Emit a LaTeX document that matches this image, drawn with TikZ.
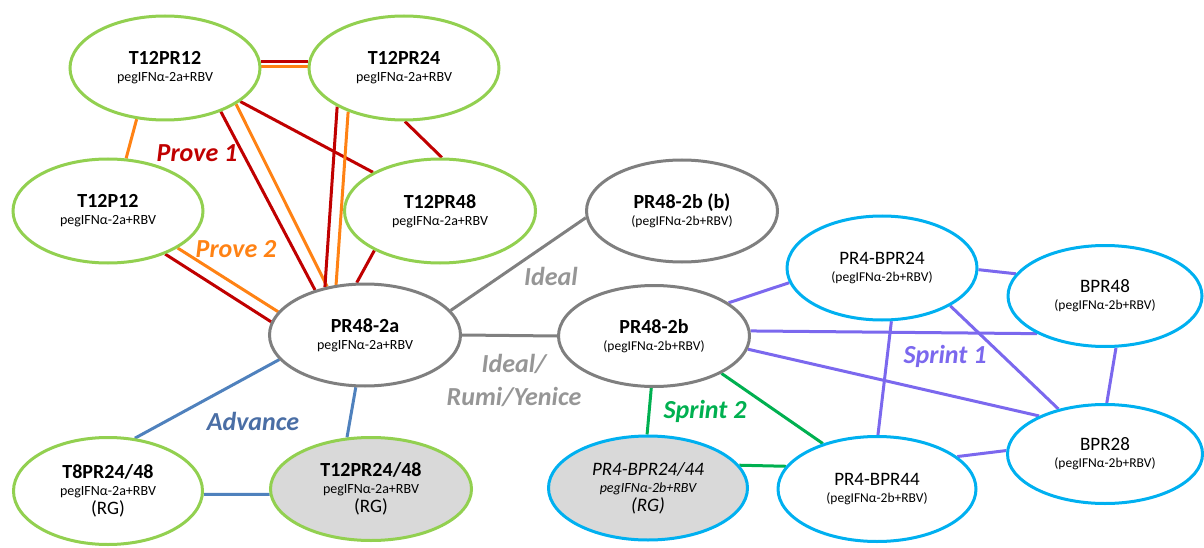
\documentclass[tikz,border=0pt]{standalone}
\usepackage{fontspec}
\setmainfont{Carlito}
\usetikzlibrary{shapes.geometric,backgrounds}
\definecolor{ngreen}{RGB}{146,208,80}
\definecolor{ngray}{RGB}{127,127,127}
\definecolor{ncyan}{RGB}{0,176,240}
\definecolor{nfill}{RGB}{217,217,217}
\definecolor{lred}{RGB}{192,0,0}
\definecolor{lorange}{RGB}{255,130,20}
\definecolor{lblue}{RGB}{79,129,189}
\definecolor{tblue}{RGB}{74,110,165}
\definecolor{lpurple}{RGB}{123,104,238}
\definecolor{lgreen}{RGB}{0,176,80}
\definecolor{lgray}{RGB}{128,128,128}
\definecolor{tgray}{RGB}{150,150,150}
\newcommand\ttl[1]{{\fontsize{20}{20}\selectfont\bfseries #1}}
\newcommand\btl[1]{{\fontsize{19}{19}\selectfont #1}}
\newcommand\rgt{{\fontsize{19}{19}\selectfont (RG)}}
\tikzset{
  ell/.style={ellipse, line width=3pt, fill=white, inner sep=0pt, align=center,
    font=\fontsize{14}{17}\selectfont},
  gnode/.style={ell, draw=ngreen},
  graynode/.style={ell, draw=ngray},
  cnode/.style={ell, draw=ncyan, font=\fontsize{13.5}{17}\selectfont},
  conn/.style={line width=3pt},
  redl/.style={conn, draw=lred},
  orl/.style={conn, draw=lorange},
  bluel/.style={conn, draw=lblue},
  purl/.style={conn, draw=lpurple},
  grnl/.style={conn, draw=lgreen},
  gryl/.style={conn, draw=lgray},
  lbl/.style={inner sep=0pt, font=\fontsize{26}{33}\selectfont\bfseries\itshape}
}
\begin{document}
\begin{tikzpicture}[x=1pt,y=-1pt]
\useasboundingbox (0,0) rectangle (1204,548);
% nodes
\node[gnode, minimum width=190pt, minimum height=104pt] (t12pr12) at (165,68) {\ttl{T12PR12}\\pegIFNα-2a+RBV};
\node[gnode, minimum width=190pt, minimum height=104pt] (t12pr24) at (404,68) {\ttl{T12PR24}\\pegIFNα-2a+RBV};
\node[gnode, minimum width=190pt, minimum height=104pt] (t12p12) at (108,211) {\ttl{T12P12}\\pegIFNα-2a+RBV};
\node[gnode, minimum width=191pt, minimum height=104pt] (t12pr48) at (440,211) {\ttl{T12PR48}\\pegIFNα-2a+RBV};
\node[graynode, minimum width=191pt, minimum height=102pt] (pr2a) at (365,335) {\ttl{PR48-2a}\\pegIFNα-2a+RBV};
\node[graynode, minimum width=191pt, minimum height=102pt, font=\fontsize{13.5}{17}\selectfont] (pr2bb) at (682,211) {\ttl{PR48-2b (b)}\\(pegIFNα-2b+RBV)};
\node[graynode, minimum width=191pt, minimum height=101pt, font=\fontsize{13.5}{17}\selectfont] (pr2b) at (654,336) {\ttl{PR48-2b}\\(pegIFNα-2b+RBV)};
\node[cnode, minimum width=190pt, minimum height=104pt] (bpr24) at (882,268) {\btl{PR4-BPR24}\\(pegIFNα-2b+RBV)};
\node[cnode, minimum width=194pt, minimum height=101pt] (bpr48) at (1105,296) {\btl{BPR48}\\(pegIFNα-2b+RBV)};
\node[cnode, minimum width=195pt, minimum height=99pt] (bpr28) at (1105,454) {\btl{BPR28}\\(pegIFNα-2b+RBV)};
\node[cnode, minimum width=198pt, minimum height=105pt] (bpr44) at (877,489) {\btl{PR4-BPR44}\\(pegIFNα-2b+RBV)};
\node[cnode, fill=nfill, minimum width=199pt, minimum height=104pt, font=\fontsize{14}{17}\selectfont\itshape] (bpr2444) at (648,488) {\btl{PR4-BPR24/44}\\pegIFNα-2b+RBV\\[2pt]\rgt};
\node[gnode, fill=nfill, minimum width=201pt, minimum height=103pt] (t12pr2448) at (371,489) {\ttl{T12PR24/48}\\pegIFNα-2a+RBV\\[2pt]\rgt};
\node[gnode, minimum width=189pt, minimum height=107pt] (t8pr2448) at (108,491) {\ttl{T8PR24/48}\\pegIFNα-2a+RBV\\[2pt]\rgt};
% labels
\node[lbl, text=lred] (lprove1) at (197,153) {Prove 1};
\node[lbl, text=lorange] (lprove2) at (236,249) {Prove 2};
\node[lbl, text=tgray] (lideal) at (551,276) {Ideal};
\node[lbl, text=tgray, align=center] (lrumi) at (514,380) {Ideal/\\Rumi/Yenice};
\node[lbl, text=tblue] (ladv) at (253,421) {Advance};
\node[lbl, text=lpurple] (lspr1) at (945,356) {Sprint 1};
\node[lbl, text=lgreen] (lspr2) at (705,411) {Sprint 2};
% connectors
\begin{pgfonlayer}{background}
\draw[redl] (t12pr12.4) -- (t12pr24.176);
\draw[orl] (t12pr12.1) -- (t12pr24.179);
\draw[orl] (t12pr12.241) -- (t12p12.71);
\draw[redl] (t12pr12.322) -- (pr2a.138);
\draw[orl] (t12pr12.333) -- (pr2a.128);
\draw[redl] (t12pr12.336) -- (t12pr48.150);
\draw[redl] (t12pr24.210) -- (pr2a.130);
\draw[orl] (t12pr24.218) -- (pr2a.120);
\draw[redl] (t12pr24.271) -- (t12pr48.88);
\draw[redl] (t12pr48.211) -- (pr2a.99);
\draw[redl] (t12p12.323) -- (pr2a.172);
\draw[orl] (t12p12.332) -- (pr2a.165);
\draw[gryl] (pr2a.16) -- (pr2bb.184);
\draw[gryl] (pr2a.0) -- (pr2b.180);
\draw[bluel] (pr2a.196) -- (t8pr2448.63);
\draw[bluel] (pr2a.260) -- (t12pr2448.115);
\draw[bluel] (t8pr2448.358) -- (t12pr2448.183);
\draw[grnl] (pr2b.267) -- (bpr2444.91);
\draw[grnl] (pr2b.331) -- (bpr44.140);
\draw[grnl] (bpr2444.14) -- (bpr44.166);
\draw[purl] (pr2b.24) -- (bpr24.189);
\draw[purl] (pr2b.3) -- (bpr48.209);
\draw[purl] (pr2b.352) -- (bpr28.150);
\draw[purl] (bpr24.359) -- (bpr48.166);
\draw[purl] (bpr24.331) -- (bpr28.136);
\draw[purl] (bpr24.280) -- (bpr44.89);
\draw[purl] (bpr48.282) -- (bpr28.88);
\draw[purl] (bpr44.22) -- (bpr28.178);
\end{pgfonlayer}
\end{tikzpicture}
\end{document}
